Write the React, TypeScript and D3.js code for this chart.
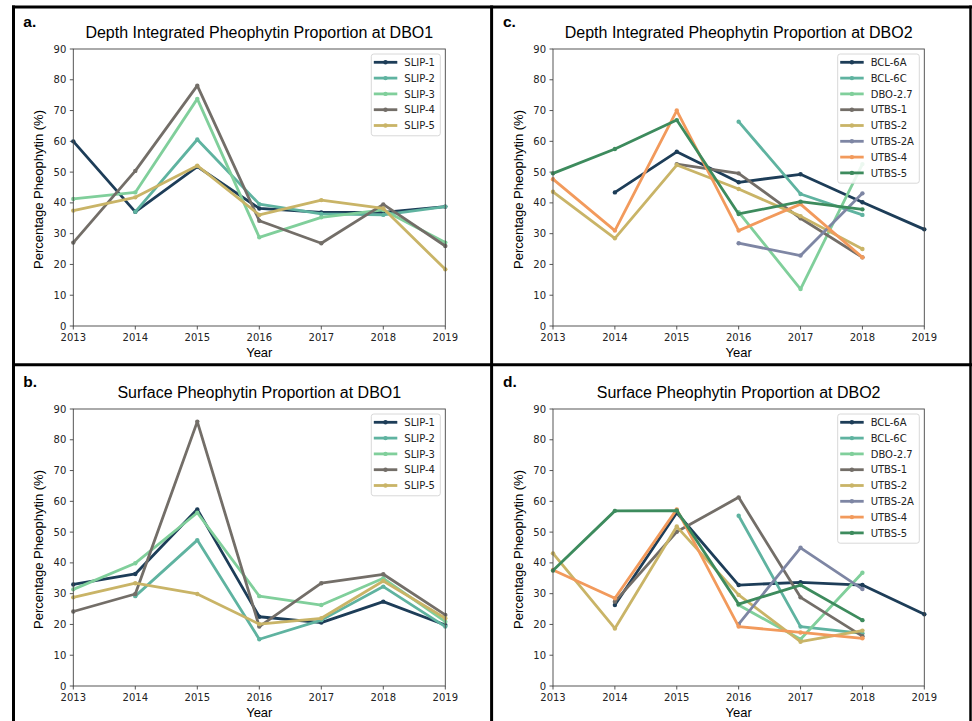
import React from "react";
import * as d3 from "d3";

const years = [2013, 2014, 2015, 2016, 2017, 2018, 2019];
const yTicks = [0, 10, 20, 30, 40, 50, 60, 70, 80, 90];

type V = number | null;

// Panel a: depth integrated DBO1
const aSLIP1: V[] = [60, 37.1, 51.8, 38.2, 36.9, 36.9, 38.8];
const aSLIP2: V[] = [null, 37.1, 60.6, 39.6, 36.4, 36.1, 38.8];
const aSLIP3: V[] = [41.3, 43.4, 73.8, 28.8, 35.3, 37.7, 27.1];
const aSLIP4: V[] = [27.1, 50.4, 78.1, 34.2, 26.9, 39.5, 26.0];
const aSLIP5: V[] = [37.5, 41.8, 52.1, 36.1, 40.9, 38.2, 18.4];

// Panel b: surface DBO1
const bSLIP1: V[] = [33.0, 36.4, 57.4, 22.5, 20.6, 27.4, 19.8];
const bSLIP2: V[] = [null, 29.2, 47.4, 15.2, 21.4, 32.3, 19.3];
const bSLIP3: V[] = [31.4, 39.9, 56.3, 29.2, 26.3, 35.0, 20.9];
const bSLIP4: V[] = [24.2, 29.9, 85.9, 19.3, 33.4, 36.3, 23.1];
const bSLIP5: V[] = [28.8, 33.4, 29.9, 20.1, 22.0, 34.1, 22.0];

// Panel c: depth integrated DBO2
const cBCL6A: V[] = [null, 43.4, 56.6, 46.7, 49.3, 40.2, 31.4];
const cBCL6C: V[] = [null, null, null, 66.4, 42.9, 36.1, null];
const cDBO27: V[] = [null, null, null, 37.0, 12.0, 52.6, null];
const cUTBS1: V[] = [null, null, 52.6, 49.6, 35.0, 22.3, null];
const cUTBS2: V[] = [43.6, 28.5, 52.3, 44.5, 35.7, 25.0, null];
const cUTBS2A: V[] = [null, null, null, 26.9, 22.9, 43.1, null];
const cUTBS4: V[] = [47.7, 31.0, 70.0, 31.0, 39.6, 22.3, null];
const cUTBS5: V[] = [49.6, 57.5, 66.9, 36.4, 40.4, 37.9, null];

// Panel d: surface DBO2
const dBCL6A: V[] = [null, 26.3, 56.3, 32.8, 33.7, 32.8, 23.3];
const dBCL6C: V[] = [null, null, null, 55.3, 19.3, 17.1, null];
const dDBO27: V[] = [null, null, null, 26.3, 15.2, 36.8, null];
const dUTBS1: V[] = [null, 27.4, 50.1, 61.3, 28.8, 16.2, null];
const dUTBS2: V[] = [43.1, 18.7, 51.8, 29.6, 14.4, 18.0, null];
const dUTBS2A: V[] = [null, null, null, 20.1, 44.9, 31.5, null];
const dUTBS4: V[] = [37.7, 28.5, 57.4, 19.3, 17.4, 15.5, null];
const dUTBS5: V[] = [37.5, 56.9, 57.0, 26.6, 32.8, 21.4, null];

const slipNames = ["SLIP-1", "SLIP-2", "SLIP-3", "SLIP-4", "SLIP-5"];
const dbo2Names = ["BCL-6A", "BCL-6C", "DBO-2.7", "UTBS-1", "UTBS-2", "UTBS-2A", "UTBS-4", "UTBS-5"];

const C = {
  navy: "#1d3d58",
  teal: "#5fb3a0",
  lgreen: "#80cf9b",
  gray: "#736e68",
  gold: "#c9b467",
  slate: "#7e86a4",
  orange: "#f29a5c",
  dgreen: "#3d8b5d",
};
const slipColors = [C.navy, C.teal, C.lgreen, C.gray, C.gold];
const dbo2Colors = [C.navy, C.teal, C.lgreen, C.gray, C.gold, C.slate, C.orange, C.dgreen];

interface PanelDef {
  letter: string;
  title: string;
  names: string[];
  colors: string[];
  series: V[][];
  x0: number;
  x1: number;
  y0: number;
  y1: number;
  legendW: number;
}

const panels: PanelDef[] = [
  {
    letter: "a.",
    title: "Depth Integrated Pheophytin Proportion at DBO1",
    names: slipNames,
    colors: slipColors,
    series: [aSLIP1, aSLIP2, aSLIP3, aSLIP4, aSLIP5],
    x0: 73.3, x1: 445.3, y0: 49, y1: 326, legendW: 69,
  },
  {
    letter: "c.",
    title: "Depth Integrated Pheophytin Proportion at DBO2",
    names: dbo2Names,
    colors: dbo2Colors,
    series: [cBCL6A, cBCL6C, cDBO27, cUTBS1, cUTBS2, cUTBS2A, cUTBS4, cUTBS5],
    x0: 553, x1: 924.3, y0: 49, y1: 326, legendW: 81.6,
  },
  {
    letter: "b.",
    title: "Surface Pheophytin Proportion at DBO1",
    names: slipNames,
    colors: slipColors,
    series: [bSLIP1, bSLIP2, bSLIP3, bSLIP4, bSLIP5],
    x0: 73.3, x1: 445.3, y0: 409, y1: 686, legendW: 69,
  },
  {
    letter: "d.",
    title: "Surface Pheophytin Proportion at DBO2",
    names: dbo2Names,
    colors: dbo2Colors,
    series: [dBCL6A, dBCL6C, dDBO27, dUTBS1, dUTBS2, dUTBS2A, dUTBS4, dUTBS5],
    x0: 553, x1: 924.3, y0: 409, y1: 686, legendW: 81.6,
  },
];

const ARIAL = "'Liberation Sans', Arial, sans-serif";
const DEJAVU = "'DejaVu Sans', sans-serif";
const SPINE = "#444";

function Panel({ p }: { p: PanelDef }) {
  const x = d3.scaleLinear().domain([2013, 2019]).range([p.x0, p.x1]);
  const y = d3.scaleLinear().domain([0, 90]).range([p.y1, p.y0]);
  const line = d3
    .line<V>()
    .defined((d) => d !== null)
    .x((_, i) => x(years[i]))
    .y((d) => y(d as number));
  const cx = (p.x0 + p.x1) / 2;
  const cy = (p.y0 + p.y1) / 2;
  const lgLeft = p.x1 - 5 - p.legendW;
  const lgTop = p.y0 + 5;
  const rowH = 15.8;
  const lgH = 8.3 + rowH * (p.names.length - 1) + 10.3;
  return (
    <g>
      <text x={p.x0 - 50} y={p.y0 - 22} fontFamily={ARIAL} fontWeight="bold" fontSize={15.5} fill="#000">
        {p.letter}
      </text>
      <text x={cx} y={p.y0 - 11.5} textAnchor="middle" fontFamily={ARIAL} fontSize={16} fill="#000">
        {p.title}
      </text>
      {/* y ticks */}
      {yTicks.map((t) => (
        <g key={"y" + t}>
          <line x1={p.x0 - 3.5} x2={p.x0} y1={y(t)} y2={y(t)} stroke={SPINE} strokeWidth={0.9} />
          <text x={p.x0 - 7} y={y(t)} dy="0.35em" textAnchor="end" fontFamily={DEJAVU} fontSize={10} fill="#222">
            {t}
          </text>
        </g>
      ))}
      {years.map((t) => (
        <g key={"x" + t}>
          <line x1={x(t)} x2={x(t)} y1={p.y1} y2={p.y1 + 3.5} stroke={SPINE} strokeWidth={0.9} />
          <text x={x(t)} y={p.y1 + 15} textAnchor="middle" fontFamily={DEJAVU} fontSize={10} fill="#222">
            {t}
          </text>
        </g>
      ))}
      <text x={cx} y={p.y1 + 31} textAnchor="middle" fontFamily={ARIAL} fontSize={13} fill="#000">
        Year
      </text>
      <text
        transform={`translate(${p.x0 - 30},${cy + 2}) rotate(-90)`}
        textAnchor="middle"
        fontFamily={ARIAL}
        fontSize={13}
        fill="#000"
      >
        Percentage Pheophytin (%)
      </text>
      {/* series */}
      {p.series.map((s, si) => (
        <g key={"s" + si}>
          <path d={line(s) || ""} fill="none" stroke={p.colors[si]} strokeWidth={2.8} strokeLinejoin="round" />
          {s.map((v, i) =>
            v === null ? null : <circle key={i} cx={x(years[i])} cy={y(v)} r={2.2} fill={p.colors[si]} />
          )}
        </g>
      ))}
      {/* spines */}
      <rect x={p.x0} y={p.y0} width={p.x1 - p.x0} height={p.y1 - p.y0} fill="none" stroke={SPINE} strokeWidth={0.9} />
      {/* legend */}
      <rect
        x={lgLeft}
        y={lgTop}
        width={p.legendW}
        height={lgH}
        rx={2.5}
        fill="#fff"
        fillOpacity={0.85}
        stroke="#d4d4d4"
        strokeWidth={0.9}
      />
      {p.names.map((n, i) => {
        const ly = lgTop + 8.3 + i * rowH;
        return (
          <g key={n}>
            <line x1={lgLeft + 2.5} x2={lgLeft + 26} y1={ly} y2={ly} stroke={p.colors[i]} strokeWidth={2.8} />
            <circle cx={lgLeft + 14.2} cy={ly} r={2.2} fill={p.colors[i]} />
            <text x={lgLeft + 33} y={ly} dy="0.36em" fontFamily={DEJAVU} fontSize={10} fill="#222">
              {n}
            </text>
          </g>
        );
      })}
    </g>
  );
}

export default function App() {
  return (
    <svg
      width={972}
      height={721}
      viewBox="0 0 972 721"
      style={{ position: "absolute", left: 0, top: 0, background: "#fff" }}
    >
      <rect x={0} y={0} width={972} height={721} fill="#fff" />
      {panels.map((p) => (
        <Panel key={p.letter} p={p} />
      ))}
      {/* frame lines */}
      <line x1={13.5} x2={13.5} y1={5.5} y2={721} stroke="#000" strokeWidth={3} />
      <line x1={12} x2={972} y1={7} y2={7} stroke="#000" strokeWidth={3} />
      <line x1={491.6} x2={491.6} y1={5.5} y2={721} stroke="#000" strokeWidth={3} />
      <line x1={12} x2={972} y1={364.8} y2={364.8} stroke="#000" strokeWidth={3} />
      <line x1={970.5} x2={970.5} y1={5.5} y2={721} stroke="#000" strokeWidth={2.5} />
    </svg>
  );
}
